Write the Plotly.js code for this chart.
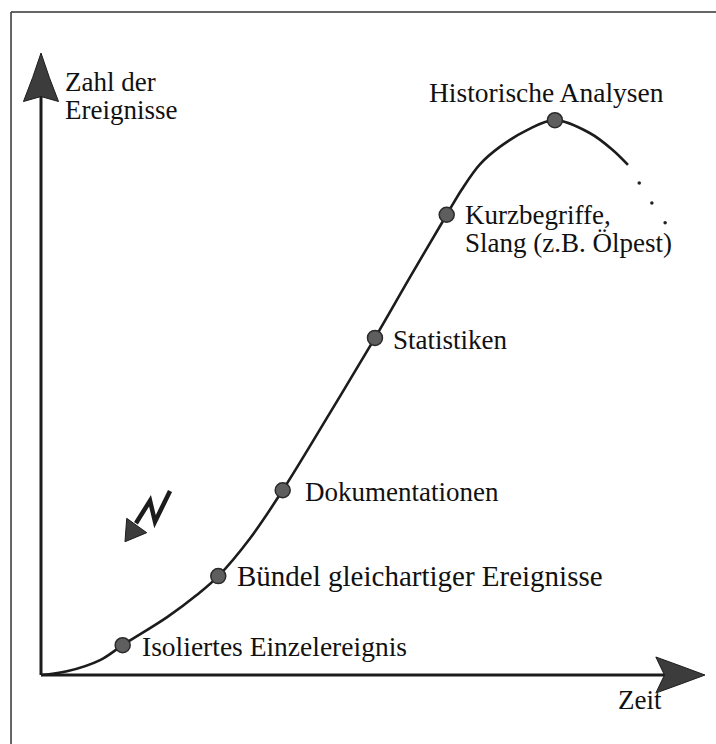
<!DOCTYPE html>
<html>
<head>
<meta charset="utf-8">
<script src="https://cdn.plot.ly/plotly-3.0.1.min.js"></script>
<style>html,body{margin:0;padding:0;background:#fff;}#chart{width:716px;height:744px;}</style>
</head>
<body>
<div id="chart"></div>
<script>
// Curve (time vs. number of events, arbitrary units)
const curveX = [0, 3.9, 8.9, 12.3, 19.0, 23.5, 26.7, 31.5, 36.4, 43.5, 50.3, 55.6, 61.1, 63.4, 66.1, 69.1, 73.2, 77.4, 82.7, 86.1, 88.4];
const curveY = [0, 0.6, 2.4, 4.8, 9.3, 12.9, 15.9, 22.0, 29.7, 42.1, 54.2, 64.0, 74.0, 78.1, 82.1, 84.9, 87.6, 89.2, 87.1, 84.4, 82.0];

// Stages marked on the curve
const stageLabels = ["Isoliertes Einzelereignis", "Bündel gleichartiger Ereignisse", "Dokumentationen", "Statistiken", "Kurzbegriffe,<br>Slang (z.B. Ölpest)", "Historische Analysen"];
const stageX = [12.3, 26.7, 36.4, 50.3, 61.1, 77.4];
const stageY = [4.8, 15.9, 29.7, 54.2, 74.0, 89.2];

// Trailing dots after the curve
const trailX = [90.1, 92.0, 94.0];
const trailY = [79.1, 75.9, 72.7];

// Axis titles
const yAxisLabel = "Zahl der<br>Ereignisse";
const xAxisLabel = "Zeit";

// label placement styles (pixel offsets from the marker, font size)
const labelStyle = [
  {xanchor: 'left', xshift: 19, yshift: -1.5, size: 27.5},
  {xanchor: 'left', xshift: 19, yshift: 0.5, size: 29},
  {xanchor: 'left', xshift: 22, yshift: -2, size: 27},
  {xanchor: 'left', xshift: 18, yshift: -2.5, size: 27},
  {xanchor: 'left', xshift: 18, yshift: 0, size: 27},
  {xanchor: 'center', xshift: -8, yshift: 28, size: 27.5}
];

const FAMILY = '"Liberation Serif", "Times New Roman", serif';
const FONT = {family: FAMILY, size: 27, color: '#111'};
const INK = '#1c1c1c';
const HEAD = '#3c3c3c';

const traces = [
  {x: curveX, y: curveY, mode: 'lines', line: {shape: 'spline', smoothing: 1, color: INK, width: 2.6}, hoverinfo: 'skip', cliponaxis: false},
  {x: stageX, y: stageY, mode: 'markers', marker: {size: 15, color: '#5e5e5e', line: {color: '#2a2a2a', width: 1.5}}, hoverinfo: 'skip', cliponaxis: false},
  {x: trailX, y: trailY, mode: 'markers', marker: {size: 3.5, color: '#222'}, hoverinfo: 'skip', cliponaxis: false}
];

const annotations = [];
stageLabels.forEach((lab, i) => {
  const lines = lab.split('<br>');
  lines.forEach((ln, j) => {
    annotations.push({
      x: stageX[i], y: stageY[i], xref: 'x', yref: 'y', text: ln, showarrow: false,
      xanchor: labelStyle[i].xanchor, yanchor: 'middle',
      xshift: labelStyle[i].xshift, yshift: labelStyle[i].yshift - j * 28,
      font: {family: FAMILY, size: labelStyle[i].size, color: '#111'}, borderpad: 0, borderwidth: 0
    });
  });
});
yAxisLabel.split('<br>').forEach((ln, j) => {
  annotations.push({x: 3.6, y: 95.4, xref: 'x', yref: 'y', text: ln, showarrow: false,
    xanchor: 'left', yanchor: 'middle', yshift: -j * 28, font: FONT, borderpad: 0, borderwidth: 0});
});
annotations.push({x: 86.9, y: -3.94, xref: 'x', yref: 'y', text: xAxisLabel, showarrow: false,
  xanchor: 'left', yanchor: 'middle', font: FONT, borderpad: 0, borderwidth: 0});

const shapes = [
  // frame
  {type: 'line', xref: 'paper', yref: 'paper', x0: 0.0154, y0: 0, x1: 0.0154, y1: 0.9839, line: {color: '#333', width: 1.5}},
  {type: 'line', xref: 'paper', yref: 'paper', x0: 0.0154, y0: 0.9839, x1: 1, y1: 0.9839, line: {color: '#333', width: 1.5}},
  // axes
  {type: 'line', xref: 'x', yref: 'y', x0: 0, y0: 0, x1: 0, y1: 94, line: {color: INK, width: 3}},
  {type: 'line', xref: 'x', yref: 'y', x0: 0, y0: 0, x1: 94, y1: 0, line: {color: INK, width: 3}},
  // arrow heads
  {type: 'path', xref: 'x', yref: 'y', path: 'M 0 100 Q 1.2 96 2.64 92.2 L 0 93.0 L -2.64 92.2 Q -1.2 96 0 100 Z', fillcolor: HEAD, line: {color: INK, width: 1}},
  {type: 'path', xref: 'x', yref: 'y', path: 'M 100 0 Q 96.5 1.4 92.6 2.9 L 93.9 0 L 92.6 -2.9 Q 96.5 -1.4 100 0 Z', fillcolor: HEAD, line: {color: INK, width: 1}},
  // lightning arrow
  {type: 'path', xref: 'x', yref: 'y', path: 'M 19.43 29.58 L 17.17 24.65 L 16.42 28.02 L 14.3 24.4', line: {color: INK, width: 4.5}},
  {type: 'path', xref: 'x', yref: 'y', path: 'M 12.65 21.43 L 12.91 25.19 L 15.92 22.88 Z', fillcolor: HEAD, line: {color: INK, width: 1}}
];

const layout = {
  width: 716, height: 744,
  margin: {l: 0, r: 0, t: 0, b: 0, pad: 0},
  paper_bgcolor: '#fff', plot_bgcolor: '#fff',
  showlegend: false,
  xaxis: {range: [-6.175, 101.66], visible: false, fixedrange: true},
  yaxis: {range: [-11.09, 108.52], visible: false, fixedrange: true},
  annotations: annotations,
  shapes: shapes
};

Plotly.newPlot('chart', traces, layout, {displayModeBar: false, staticPlot: true});
</script>
</body>
</html>
